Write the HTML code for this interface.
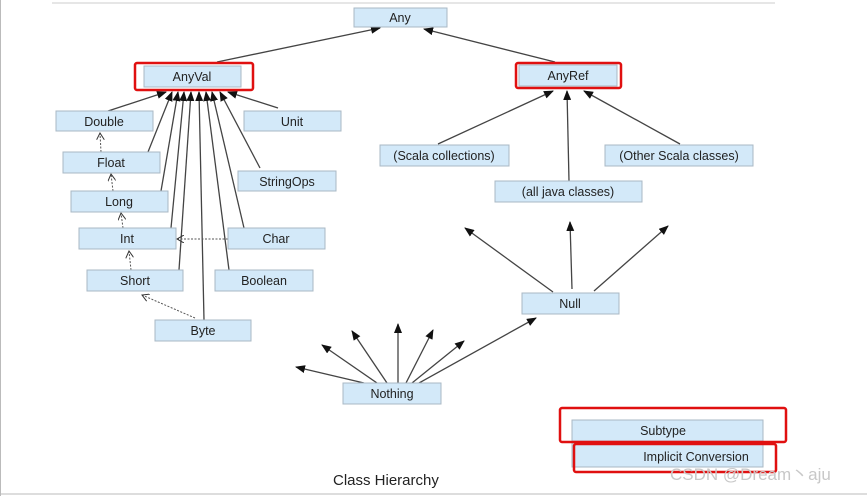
<!DOCTYPE html>
<html><head><meta charset="utf-8"><style>
body{margin:0;width:867px;height:496px;background:#fff;overflow:hidden;font-family:"Liberation Sans","Noto Sans CJK SC",sans-serif}
svg{position:absolute;left:0;top:0}
</style></head><body>
<svg width="867" height="496" viewBox="0 0 867 496" font-family="Liberation Sans, Noto Sans CJK SC, sans-serif">
<defs>
<marker id="a" markerWidth="10" markerHeight="8" refX="9" refY="4" orient="auto" markerUnits="userSpaceOnUse"><path d="M0,0 L10,4 L0,8 z" fill="#111"/></marker>
<marker id="o" markerWidth="8" markerHeight="8" refX="7" refY="4" orient="auto" markerUnits="userSpaceOnUse"><path d="M0,0 L7,4 L0,8" fill="none" stroke="#333" stroke-width="1"/></marker>
</defs>
<line x1="0.5" y1="0" x2="0.5" y2="496" stroke="#bbb"/>
<line x1="52" y1="3" x2="775" y2="3" stroke="#ccc"/>
<line x1="0" y1="494" x2="867" y2="494" stroke="#bbb"/>
<g stroke="#444" stroke-width="1.3" marker-end="url(#a)">
<line x1="217" y1="62" x2="380" y2="28"/>
<line x1="555" y1="62" x2="424" y2="29"/>
<line x1="108" y1="111" x2="166" y2="92"/>
<line x1="148" y1="152" x2="172" y2="92"/>
<line x1="161" y1="191" x2="178" y2="92"/>
<line x1="171" y1="228" x2="184" y2="92"/>
<line x1="179" y1="270" x2="191" y2="92"/>
<line x1="204" y1="320" x2="199" y2="92"/>
<line x1="229" y1="270" x2="206" y2="92"/>
<line x1="244" y1="228" x2="212" y2="92"/>
<line x1="260" y1="168" x2="220" y2="92"/>
<line x1="278" y1="108" x2="228" y2="92"/>
<line x1="438" y1="144" x2="553" y2="91"/>
<line x1="569" y1="181" x2="567" y2="91"/>
<line x1="680" y1="144" x2="584" y2="91"/>
<line x1="553" y1="292" x2="465" y2="228"/>
<line x1="572" y1="289" x2="570" y2="222"/>
<line x1="594" y1="291" x2="668" y2="226"/>
<line x1="364" y1="383" x2="296" y2="367"/>
<line x1="377" y1="383" x2="322" y2="345"/>
<line x1="387" y1="383" x2="352" y2="331"/>
<line x1="398" y1="383" x2="398" y2="324"/>
<line x1="406" y1="383" x2="433" y2="330"/>
<line x1="412" y1="383" x2="464" y2="341"/>
<line x1="419" y1="383" x2="536" y2="318"/>
<line x1="640" y1="430" x2="580" y2="430"/>
</g>
<g stroke="#555" stroke-width="1" stroke-dasharray="2,1.5" marker-end="url(#o)">
<line x1="101" y1="152" x2="100" y2="133"/>
<line x1="113" y1="191" x2="111" y2="174"/>
<line x1="123" y1="228" x2="121" y2="213"/>
<line x1="131" y1="270" x2="129" y2="251"/>
<line x1="195" y1="318" x2="142" y2="295"/>
<line x1="228" y1="239" x2="177" y2="239"/>
<line x1="634" y1="456" x2="581" y2="456"/>
</g>
<g fill="#d3e9f9" stroke="#a9b8c4" stroke-width="1">
<rect x="354" y="8" width="93" height="19"/>
<rect x="144" y="66" width="97" height="21"/>
<rect x="519" y="65" width="98" height="21"/>
<rect x="56" y="111" width="97" height="20"/>
<rect x="244" y="111" width="97" height="20"/>
<rect x="63" y="152" width="97" height="21"/>
<rect x="238" y="171" width="98" height="20"/>
<rect x="71" y="191" width="97" height="21"/>
<rect x="79" y="228" width="97" height="21"/>
<rect x="228" y="228" width="97" height="21"/>
<rect x="87" y="270" width="96" height="21"/>
<rect x="215" y="270" width="98" height="21"/>
<rect x="155" y="320" width="96" height="21"/>
<rect x="380" y="145" width="129" height="21"/>
<rect x="605" y="145" width="148" height="21"/>
<rect x="495" y="181" width="147" height="21"/>
<rect x="522" y="293" width="97" height="21"/>
<rect x="343" y="383" width="98" height="21"/>
<rect x="572" y="420" width="191" height="21"/>
<rect x="572" y="443" width="191" height="24"/>
</g>
<g fill="none" stroke="#e01010" stroke-width="2.5">
<rect x="135" y="63" width="118" height="27" rx="2"/>
<rect x="516" y="63" width="105" height="25" rx="2"/>
<rect x="560" y="408" width="226" height="34" rx="2"/>
<rect x="574" y="444" width="202" height="28" rx="2"/>
</g>
<g font-size="12.5" fill="#222" text-anchor="middle">
<text x="400" y="22">Any</text>
<text x="192" y="81">AnyVal</text>
<text x="568" y="80">AnyRef</text>
<text x="104" y="126">Double</text>
<text x="292" y="126">Unit</text>
<text x="111" y="167">Float</text>
<text x="287" y="186">StringOps</text>
<text x="119" y="206">Long</text>
<text x="127" y="243">Int</text>
<text x="276" y="243">Char</text>
<text x="135" y="285">Short</text>
<text x="264" y="285">Boolean</text>
<text x="203" y="335">Byte</text>
<text x="444" y="160">(Scala collections)</text>
<text x="679" y="160">(Other Scala classes)</text>
<text x="568" y="196">(all java classes)</text>
<text x="570" y="308">Null</text>
<text x="392" y="398">Nothing</text>
<text x="663" y="435">Subtype</text>
<text x="696" y="461">Implicit Conversion</text>
</g>
<text x="333" y="485" font-size="15" fill="#222">Class Hierarchy</text>
<text x="670" y="480" font-size="17" fill="#c8c8c8">CSDN @Dream丶aju</text>
</svg>
</body></html>
